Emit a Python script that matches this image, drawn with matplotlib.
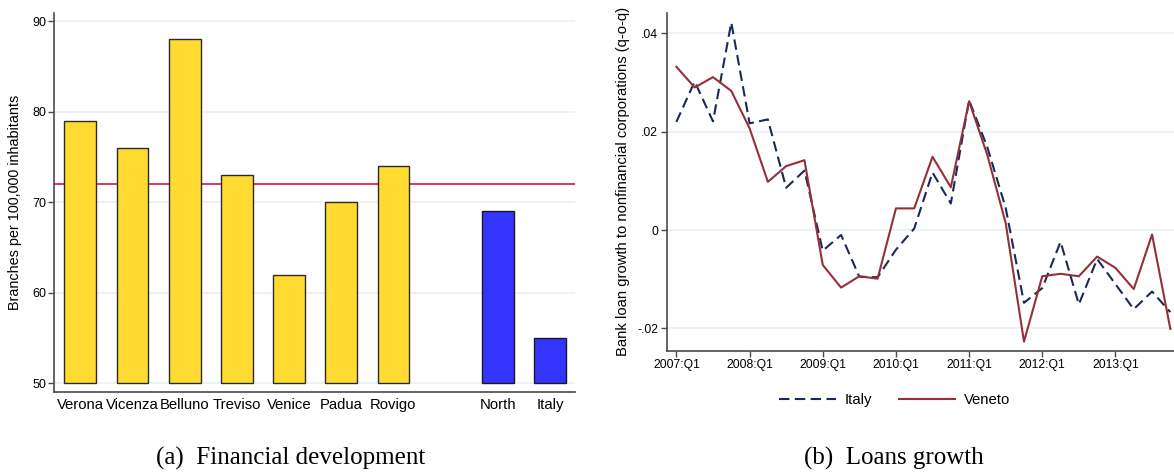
import numpy as np
import matplotlib.pyplot as plt

# Branches per 100,000 inhabitants, Veneto provinces and benchmarks
provinces = ["Verona", "Vicenza", "Belluno", "Treviso", "Venice", "Padua", "Rovigo"]
province_branches = [79, 76, 88, 73, 62, 70, 74]
benchmarks = ["North", "Italy"]
benchmark_branches = [69, 55]
veneto_avg = 72

# Quarterly bank loan growth to nonfinancial corporations, 2007:Q1 - 2013:Q4
quarters = [f"{y}:Q{q}" for y in range(2007, 2014) for q in range(1, 5)]
italy_growth = [0.0220, 0.0302, 0.0221, 0.0422, 0.0217, 0.0225, 0.0086, 0.0121,
                -0.0042, -0.0010, -0.0095, -0.0096, -0.0040, 0.0003, 0.0117, 0.0054,
                0.0264, 0.0168, 0.0045, -0.0148, -0.0118, -0.0024, -0.0151, -0.0059,
                -0.0110, -0.0161, -0.0125, -0.0167]
veneto_growth = [0.0332, 0.0290, 0.0311, 0.0283, 0.0207, 0.0098, 0.0130, 0.0142,
                 -0.0071, -0.0117, -0.0094, -0.0099, 0.0044, 0.0044, 0.0149, 0.0087,
                 0.0262, 0.0152, 0.0014, -0.0227, -0.0094, -0.0089, -0.0094, -0.0054,
                 -0.0077, -0.0120, -0.0009, -0.0201]

plt.rcParams['font.family'] = ['Liberation Sans', 'DejaVu Sans']
GRID = '#e9f1f3'
SPINE = '#4a4a4a'

fig = plt.figure(figsize=(11.74, 4.76), dpi=100)

# ---- (a) bar chart ----
ax1 = fig.add_axes([54.3 / 1174, 1 - 392.3 / 476, (575 - 54.3) / 1174, (392.3 - 12.7) / 476])
pos_prov = np.arange(len(provinces))
pos_bench = np.arange(len(benchmarks)) + len(provinces) + 1
ax1.bar(pos_prov, np.array(province_branches) - 50, bottom=50, width=0.61,
        color='#ffda30', edgecolor='#2b2b2b', linewidth=1.0, zorder=3)
ax1.bar(pos_bench, np.array(benchmark_branches) - 50, bottom=50, width=0.61,
        color='#3434ff', edgecolor='#1a1a1a', linewidth=1.0, zorder=3)
ax1.axhline(veneto_avg, color='#d8113a', linewidth=1.2, zorder=2)
ax1.set_xlim(-0.5, 9.48)
ax1.set_ylim(49.0, 90.95)
ax1.set_yticks([50, 60, 70, 80, 90])
ax1.set_xticks(list(pos_prov) + list(pos_bench))
ax1.set_xticklabels(provinces + benchmarks, fontsize=10.7)
ax1.tick_params(axis='x', length=0, pad=4)
ax1.tick_params(axis='y', length=4, width=1, color=SPINE, labelsize=9, pad=2)
ax1.grid(axis='y', color=GRID, linewidth=1.2, zorder=0)
ax1.set_ylabel("Branches per 100,000 inhabitants", fontsize=10.4, labelpad=7)
for s in ['top', 'right']:
    ax1.spines[s].set_visible(False)
for s in ['left', 'bottom']:
    ax1.spines[s].set_color(SPINE)
    ax1.spines[s].set_linewidth(1.2)

# ---- (b) loans growth ----
ax2 = fig.add_axes([666.7 / 1174, 1 - 351 / 476, (1174 - 666.7) / 1174, (351 - 12.7) / 476])
t = np.arange(len(quarters))
ax2.plot(t, italy_growth, color='#1b2a55', linewidth=1.5,
         linestyle=(0, (5, 2.6)), label='Italy', zorder=3)
ax2.plot(t, veneto_growth, color='#933038', linewidth=1.5, label='Veneto', zorder=4)
ax2.set_xlim(-0.53, 27.2)
ax2.set_ylim(-0.0246, 0.0442)
ax2.set_yticks([-0.02, 0, 0.02, 0.04])
ax2.set_yticklabels(['-.02', '0', '.02', '.04'])
ax2.set_xticks(t[::4])
ax2.set_xticklabels(quarters[::4])
ax2.tick_params(axis='both', length=4, width=1, color=SPINE, labelsize=8.7, pad=2)
ax2.grid(axis='y', color=GRID, linewidth=1.2, zorder=0)
ax2.set_ylabel("Bank loan growth to nonfinancial corporations (q-o-q)", fontsize=10.6, labelpad=5)
for s in ['top', 'right']:
    ax2.spines[s].set_visible(False)
for s in ['left', 'bottom']:
    ax2.spines[s].set_color(SPINE)
    ax2.spines[s].set_linewidth(1.2)
ax2.legend(loc='upper center', bbox_to_anchor=(0.45, -0.085), ncol=2, frameon=False,
           fontsize=10.7, handlelength=3.8, columnspacing=1.8, handletextpad=0.6)

# captions
fig.text(291 / 1174, 1 - 458 / 476, "(a)  Financial development", family='Liberation Serif',
         fontsize=18, ha='center', va='center')
fig.text(894 / 1174, 1 - 458 / 476, "(b)  Loans growth", family='Liberation Serif',
         fontsize=18, ha='center', va='center')

fig.savefig("out.png", dpi=100)
